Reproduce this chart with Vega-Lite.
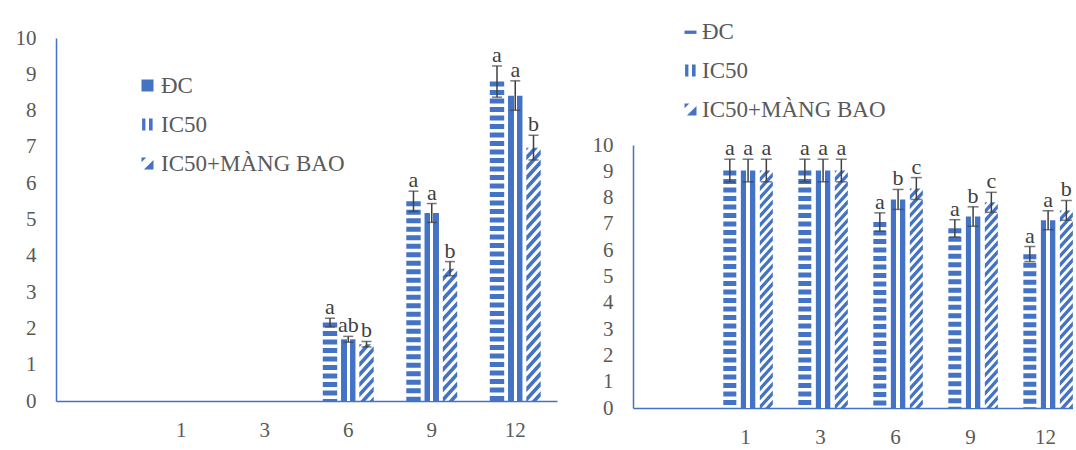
{
  "$schema": "https://vega.github.io/schema/vega-lite/v6.json",
  "background": "#ffffff",
  "padding": {"left": 15, "top": 20, "right": 0, "bottom": 0},
  "datasets": {
    "left": [
      {"time": "6", "group": "ĐC", "value": 2.16, "lo": 2.04, "hi": 2.28, "label": "a"},
      {"time": "6", "group": "IC50", "value": 1.7, "lo": 1.62, "hi": 1.78, "label": "ab"},
      {"time": "6", "group": "IC50+MÀNG BAO", "value": 1.56, "lo": 1.49, "hi": 1.64, "label": "b"},
      {"time": "9", "group": "ĐC", "value": 5.5, "lo": 5.22, "hi": 5.78, "label": "a"},
      {"time": "9", "group": "IC50", "value": 5.18, "lo": 4.92, "hi": 5.44, "label": "a"},
      {"time": "9", "group": "IC50+MÀNG BAO", "value": 3.64, "lo": 3.45, "hi": 3.84, "label": "b"},
      {"time": "12", "group": "ĐC", "value": 8.8, "lo": 8.37, "hi": 9.23, "label": "a"},
      {"time": "12", "group": "IC50", "value": 8.41, "lo": 8.01, "hi": 8.82, "label": "a"},
      {"time": "12", "group": "IC50+MÀNG BAO", "value": 6.98, "lo": 6.64, "hi": 7.32, "label": "b"}
    ],
    "right": [
      {"time": "1", "group": "ĐC", "value": 9.03, "lo": 8.6, "hi": 9.46, "label": "a"},
      {"time": "1", "group": "IC50", "value": 9.03, "lo": 8.6, "hi": 9.46, "label": "a"},
      {"time": "1", "group": "IC50+MÀNG BAO", "value": 9.03, "lo": 8.6, "hi": 9.46, "label": "a"},
      {"time": "3", "group": "ĐC", "value": 9.03, "lo": 8.6, "hi": 9.46, "label": "a"},
      {"time": "3", "group": "IC50", "value": 9.03, "lo": 8.6, "hi": 9.46, "label": "a"},
      {"time": "3", "group": "IC50+MÀNG BAO", "value": 9.03, "lo": 8.6, "hi": 9.46, "label": "a"},
      {"time": "6", "group": "ĐC", "value": 7.07, "lo": 6.72, "hi": 7.42, "label": "a"},
      {"time": "6", "group": "IC50", "value": 7.93, "lo": 7.55, "hi": 8.31, "label": "b"},
      {"time": "6", "group": "IC50+MÀNG BAO", "value": 8.35, "lo": 7.93, "hi": 8.76, "label": "c"},
      {"time": "9", "group": "ĐC", "value": 6.83, "lo": 6.5, "hi": 7.16, "label": "a"},
      {"time": "9", "group": "IC50", "value": 7.28, "lo": 6.91, "hi": 7.65, "label": "b"},
      {"time": "9", "group": "IC50+MÀNG BAO", "value": 7.82, "lo": 7.44, "hi": 8.2, "label": "c"},
      {"time": "12", "group": "ĐC", "value": 5.85, "lo": 5.57, "hi": 6.14, "label": "a"},
      {"time": "12", "group": "IC50", "value": 7.14, "lo": 6.78, "hi": 7.5, "label": "a"},
      {"time": "12", "group": "IC50+MÀNG BAO", "value": 7.51, "lo": 7.14, "hi": 7.89, "label": "b"}
    ]
  },
  "spacing": 76,
  "bounds": "flush",
  "resolve": {"scale": {"shape": "independent"}, "legend": {"shape": "independent"}},
  "hconcat": [
    {
      "width": 501,
      "height": 363,
      "data": {"name": "left"},
      "encoding": {
        "x": {"field": "time", "type": "nominal", "title": null,
              "scale": {"domain": [" ", "1", "3", "6", "9", "12"], "paddingInner": 0.39, "paddingOuter": 0.195},
              "axis": {"labelAngle": 0}},
        "xOffset": {"field": "group", "type": "nominal",
                    "scale": {"domain": ["ĐC", "IC50", "IC50+MÀNG BAO"], "paddingInner": 0.21, "paddingOuter": 0}}
      },
      "layer": [
        {
          "transform": [{"filter": {"field": "group", "equal": "ĐC"}}],
          "mark": {"type": "rule", "strokeWidth": 14.4, "strokeDash": [5, 3.5], "color": "#4472C4"},
          "encoding": {
            "y": {"field": "value", "type": "quantitative", "title": null,
                  "scale": {"domain": [0, 10], "nice": false},
                  "axis": {"values": [0, 1, 2, 3, 4, 5, 6, 7, 8, 9, 10], "tickCount": 11, "labelOverlap": false}},
            "y2": {"datum": 0}
          }
        },
        {
          "transform": [{"filter": {"field": "group", "equal": "IC50"}}],
          "mark": {"type": "bar", "color": {"gradient": "linear", "x1": 0, "x2": 1, "y1": 0, "y2": 0,
            "stops": [{"offset": 0, "color": "#4472C4"}, {"offset": 0.38, "color": "#4472C4"}, {"offset": 0.38, "color": "#ffffff"}, {"offset": 0.6, "color": "#ffffff"}, {"offset": 0.6, "color": "#4472C4"}, {"offset": 1, "color": "#4472C4"}]}},
          "encoding": {"y": {"field": "value", "type": "quantitative", "title": null, "axis": {"values": [0, 1, 2, 3, 4, 5, 6, 7, 8, 9, 10], "tickCount": 11, "labelOverlap": false}}}
        },
        {
          "transform": [{"filter": {"field": "group", "equal": "IC50+MÀNG BAO"}}],
          "mark": {"type": "point", "filled": true, "color": "#4472C4", "opacity": 1, "strokeWidth": 0, "size": 207, "clip": true,
            "shape": "M-1,0L-0.636,0L-1,0.4Z M-1,1.05L-0.045,0L0.636,0L-1,1.8Z M-1,2.45L1,0.25L1,1L-1,3.2Z M-1,3.85L1,1.65L1,2.4L-1,4.6Z M-1,5.25L1,3.05L1,3.8L-1,6Z M-1,6.65L1,4.45L1,5.2L-1,7.4Z M-1,8.05L1,5.85L1,6.6L-1,8.8Z M-1,9.45L1,7.25L1,8L-1,10.2Z M-1,10.85L1,8.65L1,9.4L-1,11.6Z M-1,12.25L1,10.05L1,10.8L-1,13Z M-1,13.65L1,11.45L1,12.2L-1,14.4Z M-1,15.05L1,12.85L1,13.6L-1,15.8Z M-1,16.45L1,14.25L1,15L-1,17.2Z M-1,17.85L1,15.65L1,16.4L-1,18.6Z M-1,19.25L1,17.05L1,17.8L-1,20Z M-1,20.65L1,18.45L1,19.2L-1,21.4Z M-1,22.05L1,19.85L1,20.6L-1,22.8Z M-1,23.45L1,21.25L1,22L-1,24.2Z M-1,24.85L1,22.65L1,23.4L-1,25.6Z M-1,26.25L1,24.05L1,24.8L-1,27Z M-1,27.65L1,25.45L1,26.2L-1,28.4Z M-1,29.05L1,26.85L1,27.6L-1,29.8Z M-1,30.45L1,28.25L1,29L-1,31.2Z M-1,31.85L1,29.65L1,30.4L-1,32.6Z M-1,33.25L1,31.05L1,31.8L-1,34Z M-1,34.65L1,32.45L1,33.2L-1,35.4Z M-1,36.05L1,33.85L1,34.6L-1,36.8Z M-1,37.45L1,35.25L1,36L-1,38.2Z M-1,38.85L1,36.65L1,37.4L-1,39.6Z"},
          "encoding": {"y": {"field": "value", "type": "quantitative", "title": null, "axis": {"values": [0, 1, 2, 3, 4, 5, 6, 7, 8, 9, 10], "tickCount": 11, "labelOverlap": false}}}
        },
        {
          "mark": {"type": "point", "filled": true, "color": "#4472C4", "opacity": 0},
          "encoding": {
            "y": {"field": "value", "type": "quantitative", "title": null, "axis": {"values": [0, 1, 2, 3, 4, 5, 6, 7, 8, 9, 10], "tickCount": 11, "labelOverlap": false}},
            "shape": {"field": "group", "type": "nominal",
              "scale": {"domain": ["ĐC", "IC50", "IC50+MÀNG BAO"],
                        "range": ["M-1,-1L1,-1L1,1L-1,1Z", "M-0.9,-1L-0.35,-1L-0.35,1L-0.9,1Z M0.25,-1L0.85,-1L0.85,1L0.25,1Z", "M-1,-1L-0.2,-1L-1,-0.2Z M1,-0.6L1,1L-0.6,1Z"]},
              "legend": {"orient": "none", "legendX": 80, "legendY": 36, "title": null, "padding": 0,
                         "labelFont": "Liberation Serif", "labelFontSize": 23, "labelColor": "#595959", "labelLimit": 400,
                         "symbolSize": 144, "symbolFillColor": "#4472C4", "symbolStrokeWidth": 0, "symbolOpacity": 1,
                         "rowPadding": 15, "labelOffset": 2}}
          }
        },
        {
          "mark": {"type": "rule", "color": "#404040", "strokeWidth": 1.5},
          "encoding": {"y": {"field": "lo", "type": "quantitative", "title": null, "axis": {"values": [0, 1, 2, 3, 4, 5, 6, 7, 8, 9, 10], "tickCount": 11, "labelOverlap": false}}, "y2": {"field": "hi"}}
        },
        {
          "mark": {"type": "tick", "color": "#404040", "thickness": 1.5, "size": 10},
          "encoding": {"y": {"field": "lo", "type": "quantitative", "title": null, "axis": {"values": [0, 1, 2, 3, 4, 5, 6, 7, 8, 9, 10], "tickCount": 11, "labelOverlap": false}}}
        },
        {
          "mark": {"type": "tick", "color": "#404040", "thickness": 1.5, "size": 10},
          "encoding": {"y": {"field": "hi", "type": "quantitative", "title": null, "axis": {"values": [0, 1, 2, 3, 4, 5, 6, 7, 8, 9, 10], "tickCount": 11, "labelOverlap": false}}}
        },
        {
          "mark": {"type": "text", "font": "Liberation Serif", "fontSize": 22, "color": "#404040", "baseline": "alphabetic", "dy": -4},
          "encoding": {"y": {"field": "hi", "type": "quantitative", "title": null, "axis": {"values": [0, 1, 2, 3, 4, 5, 6, 7, 8, 9, 10], "tickCount": 11, "labelOverlap": false}}, "text": {"field": "label"}}
        }
      ]
    },
    {
      "spacing": 7,
      "bounds": "flush",
      "vconcat": [
        {
          "width": 440,
          "height": 100,
          "data": {"values": []},
          "mark": "point"
        },
        {
          "width": 440,
          "height": 263,
          "data": {"name": "right"},
          "encoding": {
            "x": {"field": "time", "type": "nominal", "title": null,
                  "scale": {"domain": [" ", "1", "3", "6", "9", "12"], "paddingInner": 0.39, "paddingOuter": 0.128, "align": 0.76},
                  "axis": {"labelAngle": 0}},
            "xOffset": {"field": "group", "type": "nominal",
                        "scale": {"domain": ["ĐC", "IC50", "IC50+MÀNG BAO"], "paddingInner": 0.21, "paddingOuter": 0}}
          },
          "layer": [
            {
              "transform": [{"filter": {"field": "group", "equal": "ĐC"}}],
              "mark": {"type": "rule", "strokeWidth": 13, "strokeDash": [5, 3.5], "color": "#4472C4"},
              "encoding": {
                "y": {"field": "value", "type": "quantitative", "title": null,
                      "scale": {"domain": [0, 10], "nice": false},
                      "axis": {"values": [0, 1, 2, 3, 4, 5, 6, 7, 8, 9, 10], "tickCount": 11, "labelOverlap": false}},
                "y2": {"datum": 0}
              }
            },
            {
              "transform": [{"filter": {"field": "group", "equal": "IC50"}}],
              "mark": {"type": "bar", "color": {"gradient": "linear", "x1": 0, "x2": 1, "y1": 0, "y2": 0,
                "stops": [{"offset": 0, "color": "#4472C4"}, {"offset": 0.38, "color": "#4472C4"}, {"offset": 0.38, "color": "#ffffff"}, {"offset": 0.6, "color": "#ffffff"}, {"offset": 0.6, "color": "#4472C4"}, {"offset": 1, "color": "#4472C4"}]}},
              "encoding": {"y": {"field": "value", "type": "quantitative", "title": null, "axis": {"values": [0, 1, 2, 3, 4, 5, 6, 7, 8, 9, 10], "tickCount": 11, "labelOverlap": false}}}
            },
            {
              "transform": [{"filter": {"field": "group", "equal": "IC50+MÀNG BAO"}}],
              "mark": {"type": "point", "filled": true, "color": "#4472C4", "opacity": 1, "strokeWidth": 0, "size": 169, "clip": true,
                "shape": "M-1,0L-0.636,0L-1,0.4Z M-1,1.05L-0.045,0L0.636,0L-1,1.8Z M-1,2.45L1,0.25L1,1L-1,3.2Z M-1,3.85L1,1.65L1,2.4L-1,4.6Z M-1,5.25L1,3.05L1,3.8L-1,6Z M-1,6.65L1,4.45L1,5.2L-1,7.4Z M-1,8.05L1,5.85L1,6.6L-1,8.8Z M-1,9.45L1,7.25L1,8L-1,10.2Z M-1,10.85L1,8.65L1,9.4L-1,11.6Z M-1,12.25L1,10.05L1,10.8L-1,13Z M-1,13.65L1,11.45L1,12.2L-1,14.4Z M-1,15.05L1,12.85L1,13.6L-1,15.8Z M-1,16.45L1,14.25L1,15L-1,17.2Z M-1,17.85L1,15.65L1,16.4L-1,18.6Z M-1,19.25L1,17.05L1,17.8L-1,20Z M-1,20.65L1,18.45L1,19.2L-1,21.4Z M-1,22.05L1,19.85L1,20.6L-1,22.8Z M-1,23.45L1,21.25L1,22L-1,24.2Z M-1,24.85L1,22.65L1,23.4L-1,25.6Z M-1,26.25L1,24.05L1,24.8L-1,27Z M-1,27.65L1,25.45L1,26.2L-1,28.4Z M-1,29.05L1,26.85L1,27.6L-1,29.8Z M-1,30.45L1,28.25L1,29L-1,31.2Z M-1,31.85L1,29.65L1,30.4L-1,32.6Z M-1,33.25L1,31.05L1,31.8L-1,34Z M-1,34.65L1,32.45L1,33.2L-1,35.4Z M-1,36.05L1,33.85L1,34.6L-1,36.8Z M-1,37.45L1,35.25L1,36L-1,38.2Z M-1,38.85L1,36.65L1,37.4L-1,39.6Z"},
              "encoding": {"y": {"field": "value", "type": "quantitative", "title": null, "axis": {"values": [0, 1, 2, 3, 4, 5, 6, 7, 8, 9, 10], "tickCount": 11, "labelOverlap": false}}}
            },
            {
              "mark": {"type": "point", "filled": true, "color": "#4472C4", "opacity": 0},
              "encoding": {
                "y": {"field": "value", "type": "quantitative", "title": null, "axis": {"values": [0, 1, 2, 3, 4, 5, 6, 7, 8, 9, 10], "tickCount": 11, "labelOverlap": false}},
                "shape": {"field": "group", "type": "nominal",
                  "scale": {"domain": ["ĐC", "IC50", "IC50+MÀNG BAO"],
                            "range": ["M-1,-0.15L1,-0.15L1,0.4L-1,0.4Z", "M-0.9,-1L-0.35,-1L-0.35,1L-0.9,1Z M0.25,-1L0.85,-1L0.85,1L0.25,1Z", "M-1,-1L-0.2,-1L-1,-0.2Z M1,-0.6L1,1L-0.6,1Z"]},
                  "legend": {"orient": "none", "legendX": 46, "legendY": -18, "title": null, "padding": 0,
                             "labelFont": "Liberation Serif", "labelFontSize": 23, "labelColor": "#595959", "labelLimit": 400,
                             "symbolSize": 144, "symbolFillColor": "#4472C4", "symbolStrokeWidth": 0, "symbolOpacity": 1,
                             "rowPadding": 15, "labelOffset": 0}}
              }
            },
            {
              "mark": {"type": "rule", "color": "#404040", "strokeWidth": 1.5},
              "encoding": {"y": {"field": "lo", "type": "quantitative", "title": null, "axis": {"values": [0, 1, 2, 3, 4, 5, 6, 7, 8, 9, 10], "tickCount": 11, "labelOverlap": false}}, "y2": {"field": "hi"}}
            },
            {
              "mark": {"type": "tick", "color": "#404040", "thickness": 1.5, "size": 11},
              "encoding": {"y": {"field": "lo", "type": "quantitative", "title": null, "axis": {"values": [0, 1, 2, 3, 4, 5, 6, 7, 8, 9, 10], "tickCount": 11, "labelOverlap": false}}}
            },
            {
              "mark": {"type": "tick", "color": "#404040", "thickness": 1.5, "size": 11},
              "encoding": {"y": {"field": "hi", "type": "quantitative", "title": null, "axis": {"values": [0, 1, 2, 3, 4, 5, 6, 7, 8, 9, 10], "tickCount": 11, "labelOverlap": false}}}
            },
            {
              "mark": {"type": "text", "font": "Liberation Serif", "fontSize": 22, "color": "#404040", "baseline": "alphabetic", "dy": -4},
              "encoding": {"y": {"field": "hi", "type": "quantitative", "title": null, "axis": {"values": [0, 1, 2, 3, 4, 5, 6, 7, 8, 9, 10], "tickCount": 11, "labelOverlap": false}}, "text": {"field": "label"}}
            }
          ]
        }
      ]
    }
  ],
  "config": {
    "font": "Liberation Serif",
    "view": {"stroke": null},
    "axis": {"grid": false, "ticks": false, "tickSize": 0, "domainColor": "#4472C4", "domainWidth": 1.5, "labelOverlap": false,
             "labelFont": "Liberation Serif", "labelFontSize": 21, "labelColor": "#595959"},
    "legend": {"labelFont": "Liberation Serif"},
    "axisY": {"labelPadding": 20},
    "axisX": {"labelPadding": 18}
  }
}
